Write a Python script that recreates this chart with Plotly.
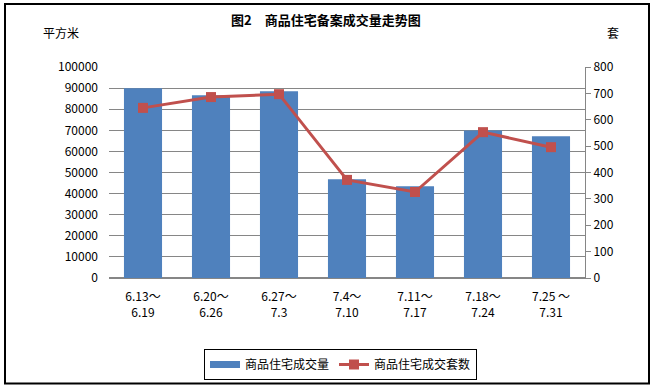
import plotly.graph_objects as go

categories = ["6.13～<br>6.19", "6.20～<br>6.26", "6.27～<br>7.3", "7.4～<br>7.10",
              "7.11～<br>7.17", "7.18～<br>7.24", "7.25 ～<br>7.31"]
area_values = [89900, 86600, 88500, 46800, 43500, 69900, 67200]
unit_values = [645, 686, 697, 372, 326, 553, 496]
left_ticks = [0, 10000, 20000, 30000, 40000, 50000, 60000, 70000, 80000, 90000, 100000]
right_ticks = [0, 100, 200, 300, 400, 500, 600, 700, 800]

FONT = "Noto Sans CJK SC, SimSun, sans-serif"
GRID = "#868686"
BLUE = "#4F81BD"
RED = "#C0504D"

# plot area in pixels
W, H = 654, 387
L, R, T, B = 109, 585, 67, 277.7
pw, ph = R - L, B - T

def px(x):
    return (x - L) / pw

def py(y):
    return (B - y) / ph

fig = go.Figure()
fig.add_trace(go.Bar(
    x=categories, y=area_values, name="商品住宅成交量",
    marker=dict(color=BLUE, line=dict(width=0)), yaxis="y", showlegend=False,
))
# legend-only entry to mimic the wide rectangle legend key
fig.add_trace(go.Scatter(
    x=[None], y=[None], name="商品住宅成交量", mode="lines",
    line=dict(color=BLUE, width=7), yaxis="y", showlegend=True,
))
fig.add_trace(go.Scatter(
    x=categories, y=unit_values, name="商品住宅成交套数", mode="lines+markers",
    line=dict(color=RED, width=3),
    marker=dict(symbol="square", size=10, color=RED),
    yaxis="y2",
))

fig.update_layout(
    width=W, height=H,
    margin=dict(l=L, r=W - R, t=T, b=H - B, autoexpand=False),
    paper_bgcolor="white", plot_bgcolor="white",
    font=dict(family=FONT, size=12, color="black"),
    bargap=0.44,
    showlegend=True,
    legend=dict(
        orientation="h", xref="container", x=340.5 / W, xanchor="center",
        yref="container", y=1 - 380 / H, yanchor="bottom",
        bordercolor="black", borderwidth=1, bgcolor="white",
        font=dict(size=12, family=FONT), tracegroupgap=0,
    ),
    xaxis=dict(
        type="category", showgrid=False, showline=True, linecolor=GRID, linewidth=1,
        ticks="", ticklabelstandoff=8, tickfont=dict(size=12, family=FONT),
        automargin=False,
    ),
    yaxis=dict(
        range=[0, 100000], tickvals=left_ticks, ticktext=[str(v) for v in left_ticks],
        showgrid=True, gridcolor=GRID, gridwidth=1, zeroline=True, zerolinecolor=GRID,
        showline=False, ticks="", ticklabelstandoff=10,
        tickfont=dict(size=12, family=FONT), automargin=False,
    ),
    yaxis2=dict(
        range=[0, 800], tickvals=right_ticks, ticktext=[str(v) for v in right_ticks],
        overlaying="y", side="right", showgrid=False, zeroline=False,
        showline=True, linecolor=GRID, linewidth=1,
        ticks="outside", ticklen=5, tickcolor=GRID,
        tickfont=dict(size=12, family=FONT), automargin=False,
    ),
)

fig.add_annotation(
    text="<b>图2　商品住宅备案成交量走势图</b>", x=px(326), y=py(20),
    xref="paper", yref="paper", showarrow=False, font=dict(size=13, family=FONT),
    xanchor="center", yanchor="middle",
)
fig.add_annotation(
    text="平方米", x=px(61), y=py(33), xref="paper", yref="paper", showarrow=False,
    font=dict(size=12, family=FONT), xanchor="center", yanchor="middle",
)
fig.add_annotation(
    text="套", x=px(613), y=py(33), xref="paper", yref="paper", showarrow=False,
    font=dict(size=12, family=FONT), xanchor="center", yanchor="middle",
)

fig.add_shape(
    type="rect", xref="paper", yref="paper",
    x0=px(5), x1=px(649), y0=py(383), y1=py(4),
    line=dict(color="black", width=2), fillcolor="rgba(0,0,0,0)", layer="above",
)

fig.write_html(
    "out.html",
    config={"displayModeBar": False},
    post_script="document.body.style.margin='0';document.body.style.overflow='hidden';",
)
